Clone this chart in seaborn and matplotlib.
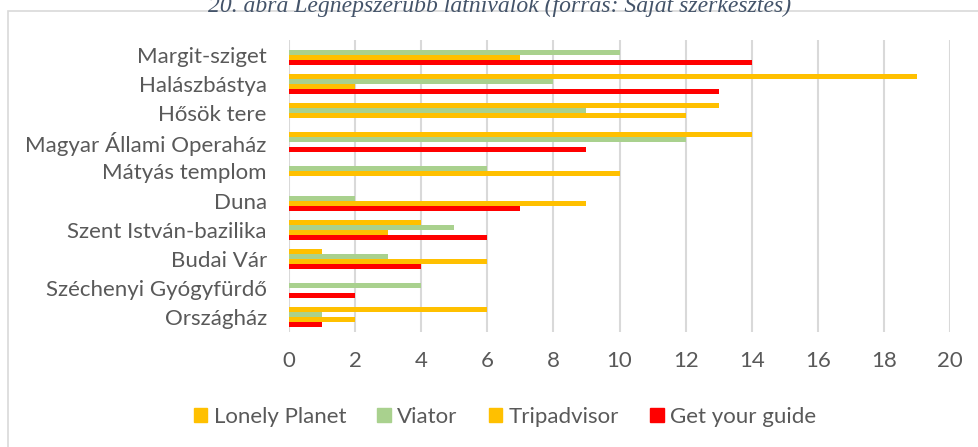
import matplotlib
matplotlib.use("Agg")
import matplotlib.pyplot as plt
import seaborn as sns
import pandas as pd
from matplotlib.patches import Rectangle

categories = ["Margit-sziget", "Halászbástya", "Hősök tere", "Magyar Állami Operaház",
              "Mátyás templom", "Duna", "Szent István-bazilika", "Budai Vár",
              "Széchenyi Gyógyfürdő", "Országház"]
series = ["Lonely Planet", "Viator", "Tripadvisor", "Get your guide"]
lonely_planet = [0, 19, 13, 14, 0, 0, 4, 1, 0, 6]
viator = [10, 8, 9, 12, 6, 2, 5, 3, 4, 1]
tripadvisor = [7, 2, 12, 0, 10, 9, 3, 6, 0, 2]
get_your_guide = [14, 13, 0, 9, 0, 7, 6, 4, 2, 1]
colors = ["#FFC000", "#A9D18E", "#FFC000", "#FF0000"]
x_ticks = [0, 2, 4, 6, 8, 10, 12, 14, 16, 18, 20]
title = "20. ábra Legnépszerűbb látnivalók (forrás: Saját szerkesztés)"

rows = []
for name, vals in zip(series, [lonely_planet, viator, tripadvisor, get_your_guide]):
    for c, v in zip(categories, vals):
        rows.append({"cat": c, "series": name, "value": v})
df = pd.DataFrame(rows)

sns.set_theme(style="white")
plt.rcParams['font.family'] = ['Lato', 'DejaVu Sans']

W, H = 979, 447
fig = plt.figure(figsize=(W / 100, H / 100), dpi=100)
ax = fig.add_axes([289 / W, 1 - 332 / H, (950 - 289) / W, (332 - 40) / H])

sns.barplot(data=df, y="cat", x="value", hue="series", order=categories,
            hue_order=series, palette=colors, orient="h", width=0.68,
            saturation=1, ax=ax, legend=False, linewidth=0)

ax.set_xlim(0, 20)
ax.set_ylim(9.5, -0.5)
ax.set_xticks(x_ticks)
ax.set_xticklabels([str(t) for t in x_ticks])
ax.set_xlabel("")
ax.set_ylabel("")
ax.grid(axis="x", color="#D9D9D9", linewidth=1.5)
ax.grid(axis="y", visible=False)
ax.set_axisbelow(True)
for s in ax.spines.values():
    s.set_visible(False)
ax.tick_params(axis="both", length=0, labelsize=16, labelcolor="#595959")
ax.tick_params(axis="x", pad=14)
ax.tick_params(axis="y", pad=16)

handles = [Rectangle((0, 0), 1, 1, color=c) for c in colors]
fig.legend(handles, series, loc="center", ncol=4, frameon=False,
           bbox_to_anchor=(505 / W, 1 - 417 / H), fontsize=16,
           labelcolor="#595959", handlelength=0.6, handleheight=0.6,
           handletextpad=0.3, columnspacing=1.4)

fig.patches.append(Rectangle((8 / W, -0.05), 1.0, 1 - 11 / H + 0.05, transform=fig.transFigure,
                             fill=False, edgecolor="#D9D9D9", linewidth=1.2))

fig.text(500 / W, 1 - 12 / H, title, ha="center", va="baseline",
         fontsize=17, style="italic", family="Liberation Serif", color="#44546A")

fig.savefig("out.png", dpi=100)
